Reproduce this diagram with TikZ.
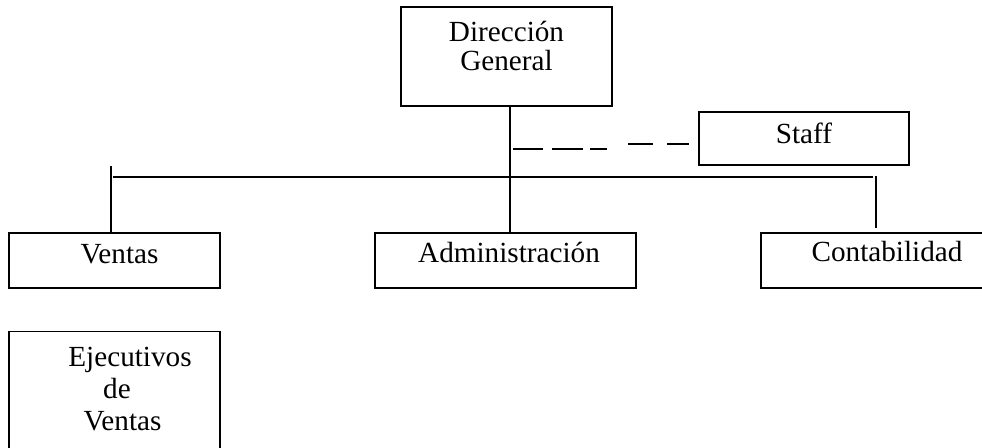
\documentclass[tikz,border=0pt]{standalone}
\usepackage{fontspec}
\setmainfont{Liberation Serif}
\usetikzlibrary{positioning}
\tikzset{
    bloque/.style={rectangle,draw,line width=0.6pt,inner sep=0pt,align=center,font=\fontsize{14.6}{14.5}\selectfont},
    linea/.style={draw,line width=0.6pt},
    lineagruesa/.style={draw,line width=1.3pt},
    discontinua/.style={draw,line width=0.6pt},
}
\begin{document}
\begin{tikzpicture}[x=0.5pt,y=-0.5pt]
    \useasboundingbox (0,0) rectangle (982,448);
    \clip (0,0) rectangle (982,448);

    \node [bloque,anchor=base,minimum width=105.5pt,text height=32pt,text depth=17.5pt] (dg) at (506.5,71) {Dirección\\General};
    \node [bloque,anchor=base,minimum width=105pt,text height=16pt,text depth=10.5pt] (staff) at (804,144) {Staff};
    \node [bloque,anchor=base,minimum width=105.5pt,text height=15.5pt,text depth=12pt] (ventas) at (114.5,264) {\hspace*{5pt}Ventas};
    \node [bloque,anchor=base,minimum width=130.5pt,text height=15pt,text depth=12.5pt] (admin) at (505.5,263) {\hspace*{3.5pt}Administración};
    \node [bloque,anchor=base,minimum width=126pt,text height=14.5pt,text depth=13pt] (conta) at (887,262) {Contabilidad};
    \node [bloque,below=21pt of ventas,minimum width=105.5pt,text height=49.5pt,text depth=20.5pt] (ejec) {\hspace*{15.5pt}Ejecutivos\\[1.5pt]\hspace*{2.5pt}de\\[1.5pt]\hspace*{8pt}Ventas};

    % lineas de mando
    \coordinate (eje) at (510,177);
    \coordinate (hizq) at (113,177);
    \coordinate (hder) at (873,177);
    \path [lineagruesa] (dg.south -| eje) -- (admin.north -| eje);
    \path [linea] (hizq) -- (hder);

    \coordinate (tv) at (111,166);
    \coordinate (tvm) at (111,212);
    \path [draw,line width=1pt] (tv) -- (tvm);
    \path [linea] (tvm) -- (tvm |- ventas.north);

    \coordinate (tc) at (876,176);
    \path [linea] (tc) -- ([yshift=2pt]tc |- conta.north);

    % staff
    \coordinate (d1) at (513,149);
    \coordinate (d2) at (607,149);
    \coordinate (d3) at (628,144);
    \path [discontinua,dash pattern=on 15pt off 4.5pt on 15.5pt off 3.5pt on 8.5pt off 20pt] (d1) -- (d2);
    \path [discontinua,dash pattern=on 12.5pt off 7pt on 12pt off 20pt] (d3) -- ([xshift=-4.5pt]staff.west |- d3);
\end{tikzpicture}
\end{document}
